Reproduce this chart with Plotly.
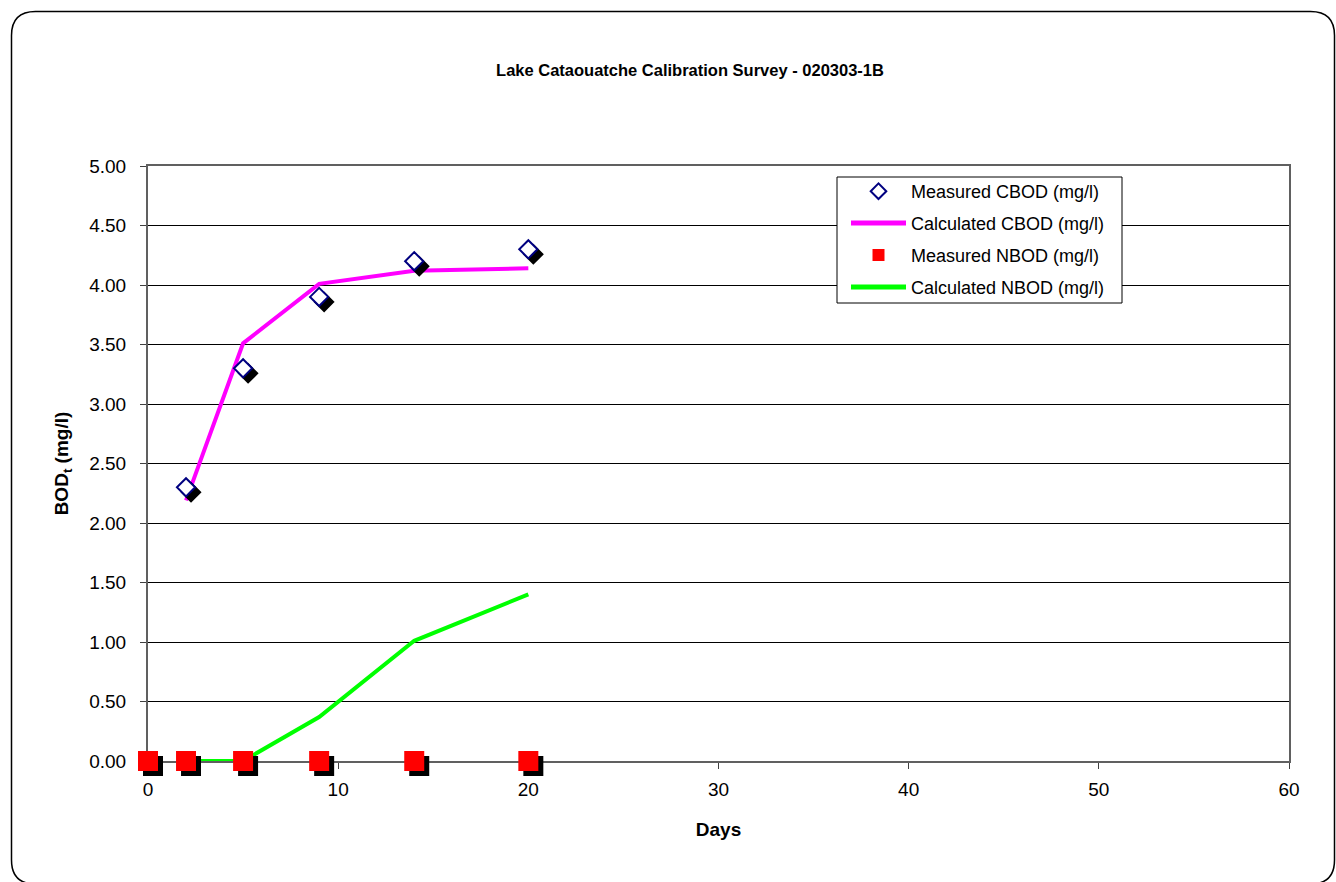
import plotly.graph_objects as go

# ---- data ----
days_cbod_meas = [2, 5, 9, 14, 20]
cbod_meas = [2.30, 3.30, 3.90, 4.20, 4.30]
days_cbod_calc = [2, 5, 9, 14, 20]
cbod_calc = [2.19, 3.51, 4.01, 4.12, 4.14]
days_nbod_meas = [0, 2, 5, 9, 14, 20]
nbod_meas = [0, 0, 0, 0, 0, 0]
days_nbod_calc = [2, 5, 9, 14, 20]
nbod_calc = [0.0, 0.0, 0.37, 1.01, 1.40]
x_ticks = [0, 10, 20, 30, 40, 50, 60]
y_ticks = [0, 0.5, 1, 1.5, 2, 2.5, 3, 3.5, 4, 4.5, 5]

# ---- layout geometry (pixels) ----
W, H = 1336, 882
L, R, T, B = 148, 1289, 166, 761       # visible plot area
E = 12                                  # extra paper room for shadows
SH = 5                                  # shadow offset px
PL, PR, PT, PB = L, R + E, T, B + E     # paper area
PWW, PHH = PR - PL, PB - PT
XMIN, XMAX, YMIN, YMAX = 0, 60, 0, 5


def px(x):
    return (x - PL) / PWW


def py(y):
    return (PB - y) / PHH


xdom = [px(L), px(R)]
ydom = [py(B), py(T)]
xdom_sh = [px(L + SH), px(R + SH)]
ydom_sh = [py(B + SH), py(T + SH)]

fig = go.Figure()

# calculated lines on base axes
fig.add_trace(go.Scatter(x=days_cbod_calc, y=cbod_calc, mode="lines", name="Calculated CBOD (mg/l)",
                         line=dict(color="#FF00FF", width=4),
                         legendgroup="b", legendrank=2, cliponaxis=False))
fig.add_trace(go.Scatter(x=days_nbod_calc, y=nbod_calc, mode="lines", name="Calculated NBOD (mg/l)",
                         line=dict(color="#00FF00", width=4),
                         legendgroup="d", legendrank=4, cliponaxis=False))

# shadows (subplot shifted by a few pixels)
fig.add_trace(go.Scatter(x=days_cbod_meas, y=cbod_meas, mode="markers", xaxis="x2", yaxis="y2",
                         marker=dict(symbol="diamond", size=14, color="black", line=dict(width=2, color="black")),
                         showlegend=False, hoverinfo="skip", cliponaxis=False))
fig.add_trace(go.Scatter(x=days_nbod_meas, y=nbod_meas, mode="markers", xaxis="x2", yaxis="y2",
                         marker=dict(symbol="square", size=20, color="black"),
                         showlegend=False, hoverinfo="skip", cliponaxis=False))

# measured markers on top
fig.add_trace(go.Scatter(x=days_cbod_meas, y=cbod_meas, mode="markers", name="Measured CBOD (mg/l)",
                         xaxis="x3", yaxis="y3",
                         marker=dict(symbol="diamond", size=14, color="white", line=dict(width=2, color="#000080")),
                         legendgroup="a", legendrank=1, cliponaxis=False))
fig.add_trace(go.Scatter(x=days_nbod_meas, y=nbod_meas, mode="markers", name="Measured NBOD (mg/l)",
                         xaxis="x3", yaxis="y3",
                         marker=dict(symbol="square", size=20, color="#FF0000"),
                         legendgroup="c", legendrank=3, cliponaxis=False))

# rounded outer border
r = 24
x0, x1, y0, y1 = 11.5, 1334.5, 11.5, 884
rx, ry = r / PWW, r / PHH
X0, X1, Y0, Y1 = px(x0), px(x1), py(y0), py(y1)
path = (f"M {X0+rx},{Y0} L {X1-rx},{Y0} Q {X1},{Y0} {X1},{Y0-ry} "
        f"L {X1},{Y1+ry} Q {X1},{Y1} {X1-rx},{Y1} L {X0+rx},{Y1} Q {X0},{Y1} {X0},{Y1+ry} "
        f"L {X0},{Y0-ry} Q {X0},{Y0} {X0+rx},{Y0} Z")
fig.add_shape(type="path", path=path, xref="paper", yref="paper",
              line=dict(color="black", width=1.5), layer="below")

# legend frame
fig.add_shape(type="rect", xref="paper", yref="paper", x0=px(837), x1=px(1122), y0=py(177), y1=py(303),
              line=dict(color="black", width=1), fillcolor="white", layer="above")

font = "Arial, Liberation Sans, sans-serif"
hidden = dict(range=None, visible=False, showgrid=False, zeroline=False)
fig.update_layout(
    width=W, height=H,
    margin=dict(l=PL, r=W - PR, t=PT, b=H - PB),
    paper_bgcolor="white", plot_bgcolor="rgba(0,0,0,0)",
    font=dict(family=font, color="black", size=19),
    title=dict(text="<b>Lake Cataouatche Calibration Survey - 020303-1B</b>",
               x=690 / W, xref="container", xanchor="center",
               y=1 - 70 / H, yref="container", yanchor="middle",
               font=dict(size=16.5, family=font, color="black")),
    xaxis=dict(domain=xdom, anchor="y", range=[XMIN, XMAX], tickvals=x_ticks, ticks="outside", ticklen=6,
               tickcolor="#404040", showgrid=False, zeroline=False, showline=True, linecolor="#606060",
               linewidth=2, mirror=True, tickfont=dict(size=19), ticklabelstandoff=4,
               title=dict(text="<b>Days</b>", font=dict(size=19), standoff=24)),
    yaxis=dict(domain=ydom, anchor="x", range=[YMIN, YMAX], tickvals=y_ticks, tickformat=".2f",
               ticks="outside", ticklen=6, tickcolor="#404040", showgrid=True, gridcolor="black",
               gridwidth=1, zeroline=False, showline=True, linecolor="#606060", linewidth=2, mirror=True,
               ticklabelstandoff=10, tickfont=dict(size=19),
               title=dict(text="<b>BOD<sub>t</sub> (mg/l)</b>", font=dict(size=19), standoff=16)),
    xaxis2=dict(domain=xdom_sh, anchor="y2", range=[XMIN, XMAX], visible=False),
    yaxis2=dict(domain=ydom_sh, anchor="x2", range=[YMIN, YMAX], visible=False),
    xaxis3=dict(domain=xdom, anchor="y3", range=[XMIN, XMAX], visible=False),
    yaxis3=dict(domain=ydom, anchor="x3", range=[YMIN, YMAX], visible=False),
    legend=dict(x=px(846), y=py(173), xanchor="left", yanchor="top",
                bgcolor="rgba(0,0,0,0)", borderwidth=0,
                font=dict(size=18, family=font, color="black"),
                traceorder="grouped", tracegroupgap=5.5, itemsizing="constant", itemwidth=55),
    showlegend=True,
)

fig.write_html("out.html")
